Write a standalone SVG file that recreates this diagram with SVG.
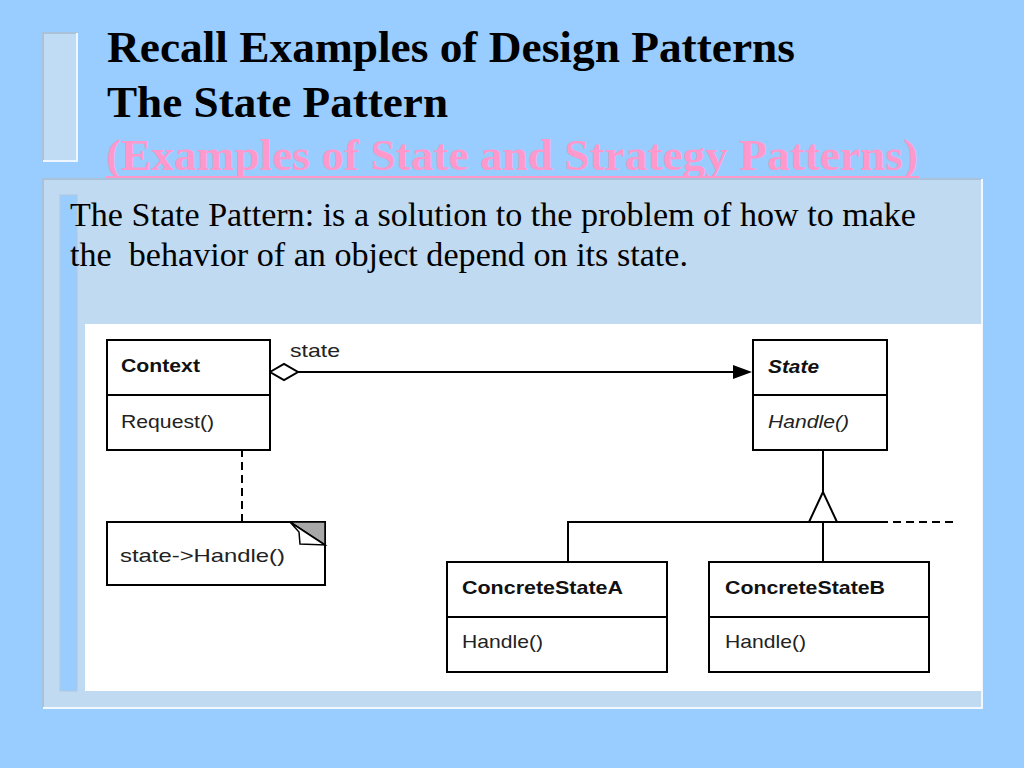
<svg xmlns="http://www.w3.org/2000/svg" width="1024" height="768" viewBox="0 0 1024 768">
<defs>
<style>
.title{font-family:'Liberation Serif','Times New Roman',Times,'Nimbus Roman','Nimbus Roman No9 L',FreeSerif,serif;font-weight:bold;font-size:44px;fill:#000}
.body{font-family:'Liberation Serif','Times New Roman',Times,'Nimbus Roman','Nimbus Roman No9 L',FreeSerif,serif;font-size:34px;fill:#000}
.box{fill:#fff;stroke:#000;stroke-width:2}
.ln{stroke:#000;stroke-width:2;fill:none}
.cls{font-family:'Liberation Sans',Arial,sans-serif;font-weight:bold;font-size:19px;fill:#111}
.op{font-family:'Liberation Sans',Arial,sans-serif;font-size:19px;fill:#222}
</style>
</defs>
<rect width="1024" height="768" fill="#99ccff"/>
<!-- top-left bar -->
<rect x="43" y="33" width="34" height="128" fill="#c0dcf4"/>
<path d="M43,161 V33 H77" fill="none" stroke="#a9c1d9" stroke-width="2"/>
<path d="M43,161 H77 V33" fill="none" stroke="#eef6ff" stroke-width="2"/>
<!-- titles -->
<text class="title" x="107" y="62" textLength="688" lengthAdjust="spacingAndGlyphs">Recall Examples of Design Patterns</text>
<text class="title" x="107" y="117" textLength="341" lengthAdjust="spacingAndGlyphs">The State Pattern</text>
<text class="title" x="106" y="170" textLength="812" lengthAdjust="spacingAndGlyphs" style="fill:#ff99cc">(Examples of State and Strategy Patterns)</text>
<rect x="106" y="176" width="813" height="3" fill="#ff99cc"/>
<!-- panel -->
<rect x="43" y="179" width="939" height="529" fill="#c0daf2"/>
<path d="M43,708 V179 H982" fill="none" stroke="#a9c1d9" stroke-width="2"/>
<path d="M43,708 H982 V179" fill="none" stroke="#f2f8ff" stroke-width="2"/>
<rect x="60" y="195" width="17" height="496" fill="#99ccff" stroke="#b0c8e0" stroke-width="1"/>
<text class="body" x="70" y="226" textLength="846" lengthAdjust="spacingAndGlyphs">The State Pattern: is a solution to the problem of how to make</text>
<text class="body" x="70" y="266" textLength="618" lengthAdjust="spacingAndGlyphs" xml:space="preserve">the  behavior of an object depend on its state.</text>
<!-- diagram area -->
<rect x="85" y="324" width="897" height="367" fill="#fff"/>
<g id="connectors">
  <line class="ln" x1="297" y1="372" x2="736" y2="372"/>
  <polygon points="270,372 284,364 298,372 284,380" fill="#fff" stroke="#000" stroke-width="2"/>
  <polygon points="733,365 752,372 733,379" fill="#000"/>
  <text class="op" x="290" y="357" textLength="50" lengthAdjust="spacingAndGlyphs">state</text>
  <ellipse cx="242" cy="418" rx="4" ry="5" fill="#fff" stroke="#000" stroke-width="2"/>
  <line class="ln" x1="242" y1="423" x2="242" y2="521" stroke-dasharray="8,5"/>
  <line class="ln" x1="823" y1="450" x2="823" y2="492"/>
  <polygon points="823,492 809,522 837,522" fill="#fff" stroke="#000" stroke-width="2"/>
  <line class="ln" x1="568" y1="522" x2="880" y2="522"/>
  <line class="ln" x1="880" y1="522" x2="956" y2="522" stroke-dasharray="8,5"/>
  <line class="ln" x1="568" y1="521" x2="568" y2="562"/>
  <line class="ln" x1="823" y1="522" x2="823" y2="562"/>
</g>
<g id="context">
  <rect class="box" x="107" y="340" width="163" height="110"/>
  <line class="ln" x1="107" y1="395" x2="270" y2="395"/>
  <text class="cls" x="121" y="372" textLength="79" lengthAdjust="spacingAndGlyphs">Context</text>
  <text class="op" x="121" y="428" textLength="93" lengthAdjust="spacingAndGlyphs">Request()</text>
</g>
<g id="note">
  <rect class="box" x="107" y="522" width="218" height="63"/>
  <polygon points="290,522 325,522 325,545" fill="#a8a8a8" stroke="#000" stroke-width="1.5"/>
  <polygon points="290,522 299,532 300,544 325,545" fill="#fff" stroke="#000" stroke-width="1.5"/>
  <text class="op" x="120" y="562" textLength="165" lengthAdjust="spacingAndGlyphs">state-&gt;Handle()</text>
</g>
<g id="state">
  <rect class="box" x="753" y="340" width="134" height="110"/>
  <line class="ln" x1="753" y1="395" x2="887" y2="395"/>
  <text class="cls" x="768" y="373" textLength="51" lengthAdjust="spacingAndGlyphs" font-style="italic">State</text>
  <text class="op" x="768" y="428" textLength="81" lengthAdjust="spacingAndGlyphs" font-style="italic">Handle()</text>
</g>
<g id="concreteStateA">
  <rect class="box" x="447" y="562" width="220" height="110"/>
  <line class="ln" x1="447" y1="617" x2="667" y2="617"/>
  <text class="cls" x="462" y="594" textLength="161" lengthAdjust="spacingAndGlyphs">ConcreteStateA</text>
  <text class="op" x="462" y="648" textLength="81" lengthAdjust="spacingAndGlyphs">Handle()</text>
</g>
<g id="concreteStateB">
  <rect class="box" x="709" y="562" width="220" height="110"/>
  <line class="ln" x1="709" y1="617" x2="929" y2="617"/>
  <text class="cls" x="725" y="594" textLength="160" lengthAdjust="spacingAndGlyphs">ConcreteStateB</text>
  <text class="op" x="725" y="648" textLength="81" lengthAdjust="spacingAndGlyphs">Handle()</text>
</g>
</svg>
